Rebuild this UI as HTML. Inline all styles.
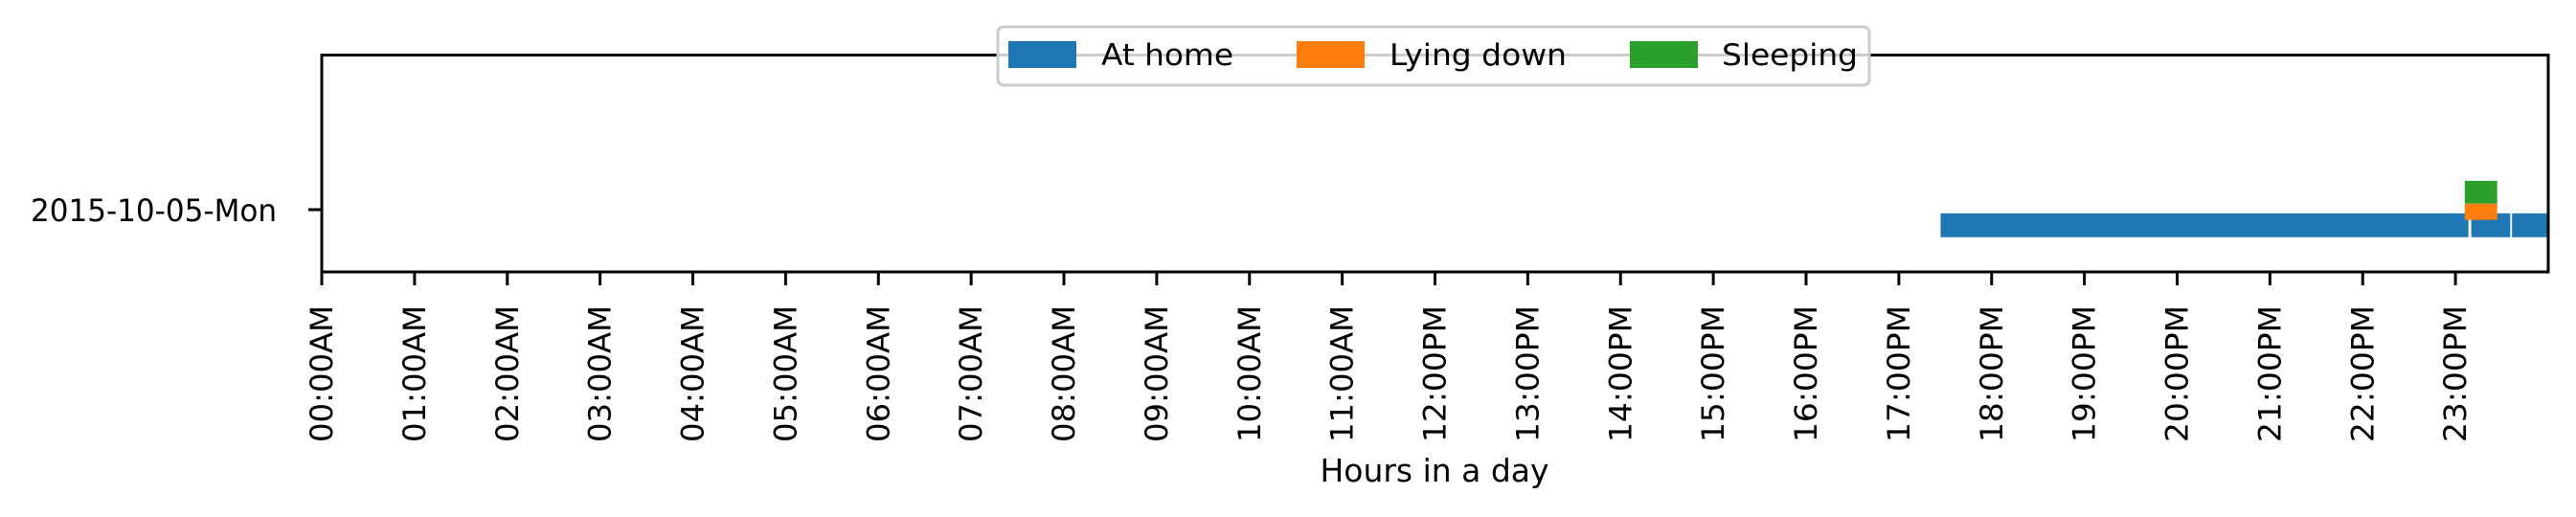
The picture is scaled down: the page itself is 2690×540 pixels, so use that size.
<!DOCTYPE html>
<html><head><meta charset="utf-8"><style>
html,body{margin:0;padding:0;background:#fff;}
svg{display:block;font-family:"DejaVu Sans","Liberation Sans",sans-serif;}
</style></head><body>
<svg id="chart" width="2690" height="540" viewBox="0 0 2690 540" xmlns="http://www.w3.org/2000/svg">
<g id="marks"></g>
<rect x="336" y="57.5" width="2325" height="226.5" fill="none" stroke="#000" stroke-width="3"/>
<g id="xticks"></g>
<g id="yticks"></g>
<text x="1498" y="503" font-size="33" text-anchor="middle" textLength="239" lengthAdjust="spacingAndGlyphs">Hours in a day</text>
<g>
<rect x="1042" y="28" width="910" height="61" rx="6" fill="#fff" fill-opacity="0.8" stroke="#ccc" stroke-width="3"/>
<rect x="1053" y="43" width="71" height="28" fill="#1f77b4"/>
<text x="1150" y="68" font-size="31" textLength="138" lengthAdjust="spacingAndGlyphs">At home</text>
<rect x="1354" y="43" width="71" height="28" fill="#ff7f0e"/>
<text x="1451" y="68" font-size="31" textLength="185" lengthAdjust="spacingAndGlyphs">Lying down</text>
<rect x="1702" y="43" width="71" height="28" fill="#2ca02c"/>
<text x="1798" y="68" font-size="31" textLength="142" lengthAdjust="spacingAndGlyphs">Sleeping</text>
</g>
</svg>
<script>
const hourTicks = [0,1,2,3,4,5,6,7,8,9,10,11,12,13,14,15,16,17,18,19,20,21,22,23];
const hourLabels = ["00:00AM","01:00AM","02:00AM","03:00AM","04:00AM","05:00AM","06:00AM","07:00AM","08:00AM","09:00AM","10:00AM","11:00AM","12:00PM","13:00PM","14:00PM","15:00PM","16:00PM","17:00PM","18:00PM","19:00PM","20:00PM","21:00PM","22:00PM","23:00PM"];
const dayTicks = [2.87];
const dayLabels = ["2015-10-05-Mon"];
const atHomeStart = [17.45, 23.17, 23.61];
const atHomeEnd = [23.14, 23.59, 24.0];
const atHomeBand = [1.6, 2.7];
const lyingStart = [23.10];
const lyingEnd = [23.45];
const lyingBand = [2.4, 3.15];
const sleepStart = [23.10];
const sleepEnd = [23.45];
const sleepBand = [3.15, 4.2];

const NS = "http://www.w3.org/2000/svg";
const X0 = 336, X1 = 2661, Y0 = 284, Y1 = 57.5;
function xs(h){ return X0 + (h/24)*(X1-X0); }
function ys(v){ return Y0 - (v/10)*(Y0-Y1); }
const marks = document.getElementById('marks');
function series(starts, ends, band, color, name){
  for(let i=0;i<starts.length;i++){
    const r=document.createElementNS(NS,'rect');
    r.setAttribute('x', xs(starts[i]));
    r.setAttribute('width', xs(ends[i])-xs(starts[i]));
    r.setAttribute('y', ys(band[1]));
    r.setAttribute('height', ys(band[0])-ys(band[1]));
    r.setAttribute('fill', color);
    
    
    marks.appendChild(r);
  }
}
series(atHomeStart, atHomeEnd, atHomeBand, '#1f77b4', 'at-home');
series(lyingStart, lyingEnd, lyingBand, '#ff7f0e', 'lying-down');
series(sleepStart, sleepEnd, sleepBand, '#2ca02c', 'sleeping');

const xg = document.getElementById('xticks');
hourTicks.forEach((h,i)=>{
  const x = xs(h);
  const l=document.createElementNS(NS,'line');
  l.setAttribute('x1',x);l.setAttribute('x2',x);l.setAttribute('y1',284);l.setAttribute('y2',298);
  l.setAttribute('stroke','#000');l.setAttribute('stroke-width','3');
  
  
  xg.appendChild(l);
  const t=document.createElementNS(NS,'text');
  t.setAttribute('transform','translate('+(x+11)+',319) rotate(-90)');
  t.setAttribute('text-anchor','end');
  t.setAttribute('font-size','32');
  t.setAttribute('textLength','143');
  t.setAttribute('lengthAdjust','spacingAndGlyphs');
  t.textContent = hourLabels[i];
  
  
  xg.appendChild(t);
});
const yg = document.getElementById('yticks');
dayTicks.forEach((v,i)=>{
  const y = ys(v);
  const l=document.createElementNS(NS,'line');
  l.setAttribute('x1',322);l.setAttribute('x2',336);l.setAttribute('y1',y);l.setAttribute('y2',y);
  l.setAttribute('stroke','#000');l.setAttribute('stroke-width','3');
  
  
  yg.appendChild(l);
  const t=document.createElementNS(NS,'text');
  t.setAttribute('x',289);t.setAttribute('y',y+12);
  t.setAttribute('text-anchor','end');
  t.setAttribute('font-size','32');
  t.setAttribute('textLength','257');
  t.setAttribute('lengthAdjust','spacingAndGlyphs');
  t.textContent = dayLabels[i];
  
  
  yg.appendChild(t);
});
</script>
</body></html>
